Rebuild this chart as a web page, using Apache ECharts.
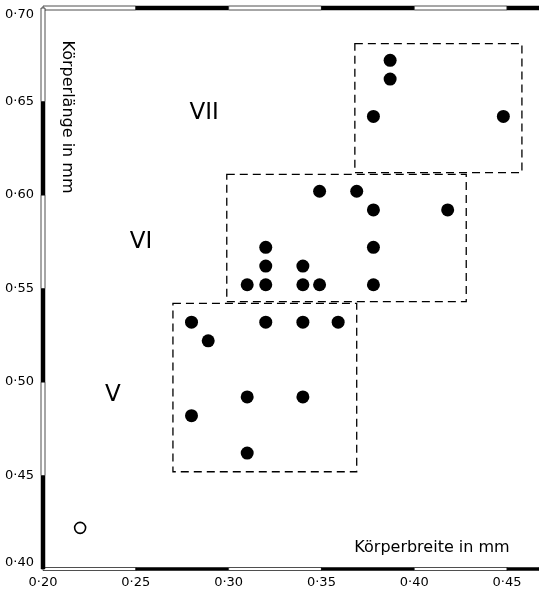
<!DOCTYPE html>
<html>
<head>
<meta charset="utf-8">
<script src="https://cdn.jsdelivr.net/npm/echarts@6/dist/echarts.min.js"></script>
<style>
html,body{margin:0;padding:0;background:#fff;}
#chart{width:539px;height:590px;}
</style>
</head>
<body>
<div id="chart"></div>
<script>
// ---- data ----
const xMin = 0.20, xMax = 0.4672, yMin = 0.40, yMax = 0.70;
const xTickValues = [0.20, 0.25, 0.30, 0.35, 0.40, 0.45];
const xTickLabels = ['0·20', '0·25', '0·30', '0·35', '0·40', '0·45'];
const yTickValues = [0.40, 0.45, 0.50, 0.55, 0.60, 0.65, 0.70];
const yTickLabels = ['0·40', '0·45', '0·50', '0·55', '0·60', '0·65', '0·70'];

// Stage VII
const groupVII = [[0.387, 0.672], [0.387, 0.662], [0.378, 0.642], [0.448, 0.642]];
// Stage VI
const groupVI = [
  [0.349, 0.602], [0.369, 0.602], [0.378, 0.592], [0.418, 0.592],
  [0.320, 0.572], [0.378, 0.572], [0.320, 0.562], [0.340, 0.562],
  [0.310, 0.552], [0.320, 0.552], [0.340, 0.552], [0.349, 0.552], [0.378, 0.552]
];
// Stage V
const groupV = [
  [0.280, 0.532], [0.320, 0.532], [0.340, 0.532], [0.359, 0.532],
  [0.289, 0.522], [0.310, 0.492], [0.340, 0.492], [0.280, 0.482], [0.310, 0.462]
];
// open circle
const openPoints = [[0.220, 0.422]];

// boxes: [xFrom, xTo, yFrom, yTo]
const boxVII = [0.368, 0.458, 0.612, 0.681];
const boxVI = [0.299, 0.428, 0.543, 0.611];
const boxV = [0.270, 0.369, 0.452, 0.542];

// group labels and where they sit (data coords)
const groupNames = ['VII', 'VI', 'V'];
const groupLabelAt = [[0.2868, 0.644], [0.2528, 0.575], [0.2377, 0.493]];

const xTitle = 'Körperbreite in mm';
const yTitle = 'Körperlänge in mm';

// ---- scale-bar axis segments (alternating black / white) ----
// kind: 0 bottom, 1 top, 2 left
const xBreaks = xTickValues.concat([xMax]);
const barSegments = [];
for (let i = 0; i < xBreaks.length - 1; i++) {
  const filled = i % 2 === 1 ? 1 : 0;
  barSegments.push([0, xBreaks[i], xBreaks[i + 1], filled]);
  barSegments.push([1, xBreaks[i], xBreaks[i + 1], filled]);
}
for (let i = 0; i < yTickValues.length - 1; i++) {
  barSegments.push([2, yTickValues[i], yTickValues[i + 1], i % 2 === 0 ? 1 : 0]);
}

const FONT = '"DejaVu Sans", "Liberation Sans", sans-serif';

function lookup(vals, labels, v) {
  for (let i = 0; i < vals.length; i++) if (Math.abs(vals[i] - v) < 1e-6) return labels[i];
  return '';
}

const dotStyle = {color: '#000', opacity: 1};

const chart = echarts.init(document.getElementById('chart'), null, {renderer: 'canvas'});
const option = {
  backgroundColor: '#ffffff',
  animation: false,
  grid: {left: 43, right: 0, top: 8, bottom: 21, containLabel: false},
  xAxis: {
    type: 'value', min: xMin, max: xMax, interval: 0.05,
    axisLine: {show: false}, axisTick: {show: false}, splitLine: {show: false},
    axisLabel: {
      show: true, margin: 7, color: '#000', fontSize: 13, fontFamily: FONT,
      showMaxLabel: false,
      formatter: v => lookup(xTickValues, xTickLabels, v)
    }
  },
  yAxis: {
    type: 'value', min: yMin, max: yMax, interval: 0.05,
    axisLine: {show: false}, axisTick: {show: false}, splitLine: {show: false},
    axisLabel: {
      show: true, margin: 9, color: '#000', fontSize: 13, fontFamily: FONT,
      verticalAlignMinLabel: 'bottom', verticalAlignMaxLabel: 'top',
      formatter: v => lookup(yTickValues, yTickLabels, v)
    }
  },
  graphic: [
    {type: 'text', x: 432, y: 548, style: {text: xTitle, fill: '#000', fontSize: 16, fontFamily: FONT, align: 'center', verticalAlign: 'middle'}},
    {type: 'text', x: 67, y: 117, rotation: -Math.PI / 2, style: {text: yTitle, fill: '#000', fontSize: 16, fontFamily: FONT, align: 'center', verticalAlign: 'middle'}}
  ],
  series: [
    {
      type: 'custom', name: 'boxes', z: 2, silent: true,
      data: [boxVII, boxVI, boxV],
      encode: {x: [0, 1], y: [2, 3]},
      renderItem: function (params, api) {
        const p1 = api.coord([api.value(0), api.value(3)]);
        const p2 = api.coord([api.value(1), api.value(2)]);
        return {
          type: 'rect',
          shape: {x: p1[0], y: p1[1], width: p2[0] - p1[0], height: p2[1] - p1[1]},
          style: {fill: 'none', stroke: '#000', lineWidth: 1.3, lineDash: [8, 5]}
        };
      }
    },
    {
      type: 'custom', name: 'axisBars', z: 5, silent: true, clip: false,
      data: barSegments,
      encode: {x: 1, y: 2},
      renderItem: function (params, api) {
        const kind = api.value(0), a = api.value(1), b = api.value(2), filled = api.value(3);
        let shape;
        if (kind === 0 || kind === 1) {
          const yv = kind === 0 ? yMin : yMax;
          const p1 = api.coord([a, yv]), p2 = api.coord([b, yv]);
          const h = kind === 0 ? 3 : 4;
          shape = {x: p1[0], y: p1[1] - h / 2, width: p2[0] - p1[0], height: h};
        } else {
          const p1 = api.coord([xMin, a]), p2 = api.coord([xMin, b]);
          shape = {x: p1[0] - 2, y: p2[1], width: 4, height: p1[1] - p2[1]};
        }
        return {
          type: 'rect', shape: shape,
          style: filled ? {fill: '#000', stroke: '#000', lineWidth: 0.5}
                        : {fill: '#fff', stroke: '#222', lineWidth: 0.8}
        };
      }
    },
    {
      type: 'custom', name: 'groupLabels', z: 4, silent: true,
      data: groupLabelAt,
      encode: {x: 0, y: 1},
      renderItem: function (params, api) {
        const p = api.coord([api.value(0), api.value(1)]);
        return {
          type: 'text', x: p[0], y: p[1],
          style: {text: groupNames[params.dataIndex], fill: '#000', fontSize: 23, fontFamily: FONT, align: 'center', verticalAlign: 'middle'}
        };
      }
    },
    {type: 'scatter', name: 'VII', z: 6, data: groupVII, symbol: 'circle', symbolSize: 13, itemStyle: dotStyle},
    {type: 'scatter', name: 'VI', z: 6, data: groupVI, symbol: 'circle', symbolSize: 13, itemStyle: dotStyle},
    {type: 'scatter', name: 'V', z: 6, data: groupV, symbol: 'circle', symbolSize: 13, itemStyle: dotStyle},
    {type: 'scatter', name: 'open', z: 6, data: openPoints, symbol: 'circle', symbolSize: 11,
      itemStyle: {color: '#fff', borderColor: '#000', borderWidth: 1.6, opacity: 1}}
  ]
};
chart.setOption(option);
</script>
</body>
</html>
